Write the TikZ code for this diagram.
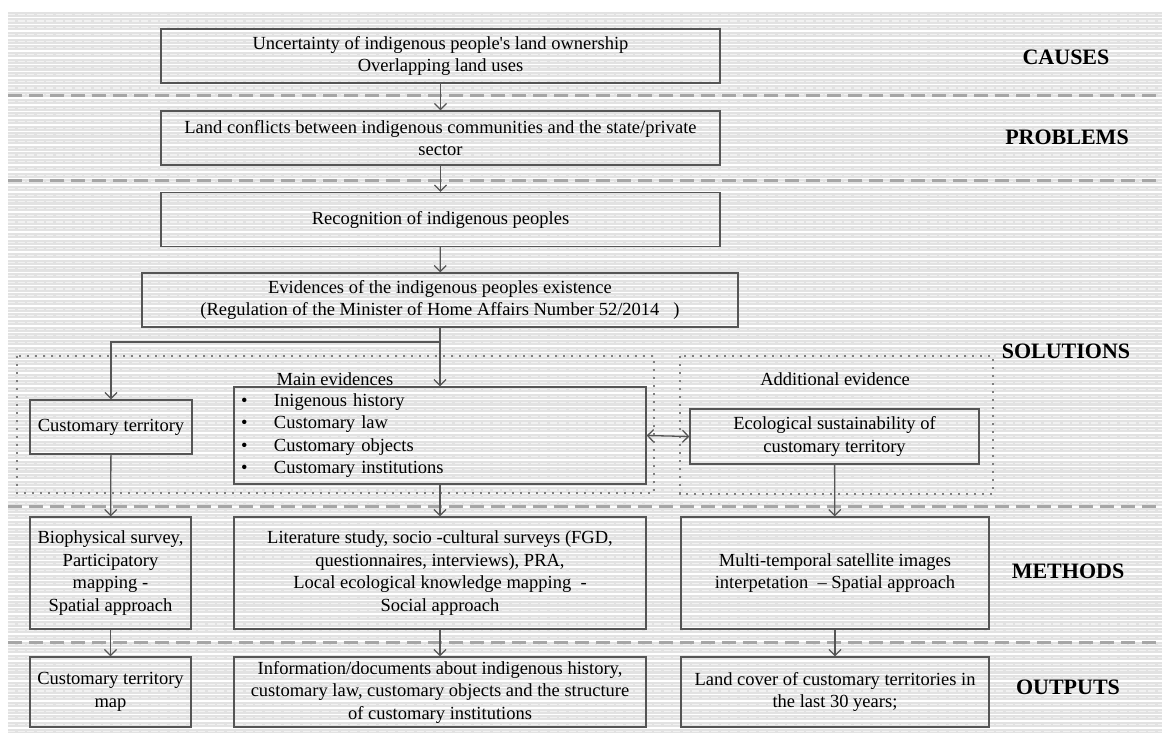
\documentclass[tikz,border=0pt]{standalone}
\usepackage{fontspec}
\setmainfont{Liberation Serif}
\usetikzlibrary{arrows.meta, positioning, calc}
\definecolor{bgBand}{HTML}{E2E2E2}
\definecolor{bgDash}{HTML}{F1F1F1}
\definecolor{sepGrey}{HTML}{A6A6A6}
\definecolor{bxGrey}{HTML}{555555}
\definecolor{dotGrey}{HTML}{7F7F7F}
\newcommand{\bodyfont}{\fontsize{18.5}{22.5}\selectfont}

\begin{document}
\begin{tikzpicture}[
    x=1pt, y=1pt,
    box/.style={draw=bxGrey, line width=1.2pt, align=center, inner sep=2pt,
                font=\bodyfont, text=black},
    evlabel/.style={font=\bodyfont, text=black, inner sep=1pt},
    tier/.style={font=\fontsize{22}{26}\selectfont\bfseries, text=black},
    fw/.style={-{Straight Barb[length=6pt, width=12pt]}, line width=1.3pt, draw=bxGrey},
    both/.style={{Straight Barb[length=6pt, width=12pt]}-{Straight Barb[length=6pt, width=12pt]},
                 line width=1.3pt, draw=bxGrey},
    sep/.style={sepGrey, line width=3pt, dash pattern=on 14pt off 7pt},
    grp/.style={draw=dotGrey, line width=2.4pt, dash pattern=on 2.4pt off 5.6pt},
  ]
  \useasboundingbox (0,0) rectangle (1162,-733);
  % textured backdrop
  \fill[bgBand] (8,-10) rectangle (1162,-733);
  \foreach \i in {0,...,107} {
    \draw[white, line width=1.5pt] (8,-11-6.7*\i) -- (1162,-11-6.7*\i);
    \draw[bgDash, line width=1.1pt, dash pattern=on 7pt off 2.5pt] (8,-14.3-6.7*\i) -- (1162,-14.3-6.7*\i);
  }
  \foreach \y in {96,180,506,642} \draw[sep] (8,-\y) -- (1162,-\y);

  % tier names
  \node[tier] (tcause) at (1066,-57)  {CAUSES};
  \node[tier] (tprob)  at (1067,-137) {PROBLEMS};
  \node[tier] (tsol)   at (1066,-351) {SOLUTIONS};
  \node[tier] (tmeth)  at (1068,-571) {METHODS};
  \node[tier] (tout)   at (1068,-687) {OUTPUTS};

  % main column
  \node[box, minimum width=559pt, minimum height=54pt] (cause) at (440.5,-56)
    {Uncertainty of indigenous people\textquotesingle s land ownership\\Overlapping land uses};
  \node[box, minimum width=559pt, minimum height=54pt] (prob) at (440.5,-138)
    {Land conflicts between indigenous communities and the state/private\\sector};
  \node[box, minimum width=559pt, minimum height=54pt] (recog) at (440.5,-219.5)
    {Recognition of indigenous peoples};
  \node[box, minimum width=596pt, minimum height=54pt] (evid) at (440,-300)
    {Evidences of the indigenous peoples existence\\(Regulation of the Minister of Home Affairs Number 52/2014\ \ \ )};
  \draw[fw] (cause) -- (prob);
  \draw[fw] (prob) -- (recog);
  \draw[fw] (recog) -- (evid);

  % solutions
  \draw[grp] (17,-356) rectangle (654,-493);
  \draw[grp] (680,-356) rectangle (993,-494);
  \node[box, minimum width=162pt, minimum height=54pt] (terr) at (111,-427) {Customary territory};
  \node[evlabel] (mainlbl) at (335,-379) {Main evidences};
  \node[box, minimum height=97pt, text width=398pt, inner xsep=7pt, align=left] (mainev) at (440,-435.5)
    {\makebox[33pt][l]{\textbullet}Inigenous history\\
     \makebox[33pt][l]{\textbullet}Customary law\\
     \makebox[33pt][l]{\textbullet}Customary objects\\
     \makebox[33pt][l]{\textbullet}Customary institutions};
  \node[evlabel] (addlbl) at (835,-379) {Additional evidence};
  \node[box, minimum width=289pt, minimum height=55pt] (ecol) at (834.5,-436.5)
    {Ecological sustainability of\\customary territory};
  \coordinate (split) at (440,-342);
  \draw[fw] (evid.south) -- (mainev.north);
  \draw[fw] (split) -| (terr.north);
  \draw[both] (mainev.east) -- (ecol.west);

  % methods
  \node[box, minimum width=161pt, minimum height=112pt] (bio) at (110.5,-573)
    {Biophysical survey,\\Participatory\\mapping -\\Spatial approach};
  \node[box, minimum width=412pt, minimum height=112pt] (lit) at (440,-573)
    {Literature study, socio -cultural surveys (FGD,\\questionnaires, interviews), PRA,\\Local ecological knowledge mapping\ \ -\\Social approach};
  \node[box, minimum width=308pt, minimum height=112pt] (multi) at (835,-573)
    {Multi-temporal satellite images\\interpetation\ \ -- Spatial approach};
  \draw[fw] (terr) -- (bio);
  \draw[fw] (mainev) -- (lit);
  \draw[fw] (ecol) -- (multi);

  % outputs
  \node[box, minimum width=161pt, minimum height=70pt] (omap) at (110.5,-692)
    {Customary territory\\map};
  \node[box, minimum width=412pt, minimum height=70pt] (oinfo) at (440,-692)
    {Information/documents about indigenous history,\\customary law, customary objects and the structure\\of customary institutions};
  \node[box, minimum width=308pt, minimum height=70pt] (ocover) at (835,-692)
    {Land cover of customary territories in\\the last 30 years;};
  \draw[fw] (bio) -- (omap);
  \draw[fw] (lit) -- (oinfo);
  \draw[fw] (multi) -- (ocover);
\end{tikzpicture}
\end{document}
